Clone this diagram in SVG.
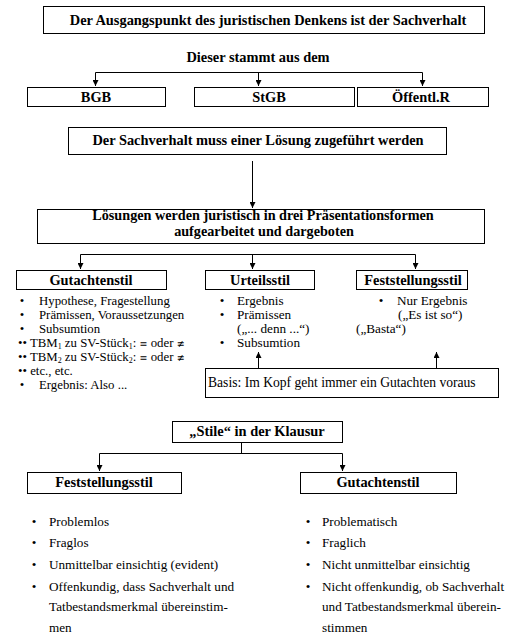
<svg xmlns="http://www.w3.org/2000/svg" width="519" height="643" viewBox="0 0 519 643">
<defs>
<marker id="ah" markerWidth="6" markerHeight="6" refX="6" refY="3" orient="auto" markerUnits="userSpaceOnUse"><path d="M0,0 L6,3 L0,6 z" fill="#000"/></marker>
</defs>
<style>
.box{fill:#fff;stroke:#000;stroke-width:1}
.b{font-family:"Liberation Serif","Times New Roman",serif;font-weight:bold;font-size:14.4px;fill:#000}
.t{font-family:"Liberation Serif","Times New Roman","DejaVu Serif",serif;font-size:13.2px;fill:#000}
.g{font-size:12.8px}
.c{text-anchor:middle}
.s{font-size:8px}
.m{font-family:"DejaVu Sans",sans-serif;font-size:9.5px}
.ln{fill:none;stroke:#000;stroke-width:1}
.ar{fill:none;stroke:#000;stroke-width:1;marker-end:url(#ah)}
</style>
<rect width="519" height="643" fill="#fff"/>

<g id="connectors">
<path class="ln" d="M95.5,72.5 H422.5"/>
<path class="ar" d="M95.5,72.5 V86"/>
<path class="ar" d="M258.5,72.5 V86"/>
<path class="ar" d="M422.5,72.5 V86"/>
<path class="ar" d="M252.5,161 V208"/>
<path class="ln" d="M80.5,254.5 H415.5"/>
<path class="ar" d="M80.5,254.5 V269"/>
<path class="ar" d="M252.5,254.5 V269"/>
<path class="ar" d="M415.5,254.5 V269"/>
<path class="ar" d="M258.5,368 V352"/>
<path class="ar" d="M436.5,368 V352"/>
<path class="ln" d="M241.5,442 V453.5 M99.5,453.5 H342.5"/>
<path class="ar" d="M99.5,453.5 V471"/>
<path class="ar" d="M342.5,453.5 V471"/>
</g>

<g id="start">
<rect class="box" x="43.5" y="6.5" width="441" height="27"/>
<text class="b c" x="268" y="24.5">Der Ausgangspunkt des juristischen Denkens ist der Sachverhalt</text>
</g>
<g id="source">
<text class="b c" x="258" y="62">Dieser stammt aus dem</text>
</g>
<g id="bgb">
<rect class="box" x="27.5" y="87.5" width="138" height="19"/>
<text class="b c" x="96" y="102">BGB</text>
</g>
<g id="stgb">
<rect class="box" x="194.5" y="87.5" width="160" height="19"/>
<text class="b c" x="269" y="102">StGB</text>
</g>
<g id="oeffr">
<rect class="box" x="357.5" y="87.5" width="131" height="19"/>
<text class="b c" x="421" y="102">Öffentl.R</text>
</g>
<g id="loesung">
<rect class="box" x="68.5" y="127.5" width="378" height="27"/>
<text class="b c" x="258" y="145">Der Sachverhalt muss einer Lösung zugeführt werden</text>
</g>
<g id="formen">
<rect class="box" x="37.5" y="209.5" width="447" height="34"/>
<text class="b c" x="263" y="220" style="font-size:14.2px">Lösungen werden juristisch in drei Präsentationsformen</text>
<text class="b c" x="264" y="236" style="font-size:14.2px">aufgearbeitet und dargeboten</text>
</g>

<g id="gutachtenstil1">
<rect class="box" x="16.5" y="270.5" width="150" height="19"/>
<text class="b c" x="91" y="285">Gutachtenstil</text>
<text class="t g c" x="22" y="305">•</text><text class="t g" x="39" y="305">Hypothese, Fragestellung</text>
<text class="t g c" x="22" y="319">•</text><text class="t g" x="39" y="319">Prämissen, Voraussetzungen</text>
<text class="t g c" x="22" y="333">•</text><text class="t g" x="39" y="333">Subsumtion</text>
<text class="t g" x="18" y="347">•• TBM<tspan class="s" dy="1.5">1</tspan><tspan dy="-1.5"> zu SV-Stück</tspan><tspan class="s" dy="1.5">1</tspan><tspan dy="-1.5">: </tspan><tspan class="m">≡</tspan><tspan> oder  </tspan><tspan class="m">≢</tspan></text>
<text class="t g" x="18" y="361">•• TBM<tspan class="s" dy="1.5">2</tspan><tspan dy="-1.5"> zu SV-Stück</tspan><tspan class="s" dy="1.5">2</tspan><tspan dy="-1.5">: </tspan><tspan class="m">≡</tspan><tspan> oder  </tspan><tspan class="m">≢</tspan></text>
<text class="t g" x="18" y="375">•• etc., etc.</text>
<text class="t g c" x="22" y="389">•</text><text class="t g" x="39" y="389">Ergebnis: Also ...</text>
</g>

<g id="urteilsstil">
<rect class="box" x="205.5" y="270.5" width="109" height="19"/>
<text class="b c" x="260" y="285">Urteilsstil</text>
<text class="t c" x="222" y="305">•</text><text class="t" x="237" y="305">Ergebnis</text>
<text class="t c" x="222" y="319">•</text><text class="t" x="237" y="319">Prämissen</text>
<text class="t" x="237" y="333">(„... denn ...“)</text>
<text class="t c" x="222" y="347">•</text><text class="t" x="237" y="347">Subsumtion</text>
</g>

<g id="feststellungsstil1">
<rect class="box" x="356.5" y="270.5" width="111" height="19"/>
<text class="b c" x="413" y="285">Feststellungsstil</text>
<text class="t c" x="381" y="305">•</text><text class="t" x="397" y="305">Nur Ergebnis</text>
<text class="t" x="398" y="319">(„Es ist so“)</text>
<text class="t" x="356" y="333">(„Basta“)</text>
</g>

<g id="basis">
<rect class="box" x="205.5" y="368.5" width="293" height="29"/>
<text class="t" x="208" y="387" style="font-size:13.6px">Basis: Im Kopf geht immer ein Gutachten voraus</text>
</g>

<g id="stile">
<rect class="box" x="172.5" y="421.5" width="170" height="21"/>
<text class="b c" x="257" y="436">„Stile“ in der Klausur</text>
</g>

<g id="feststellungsstil2">
<rect class="box" x="27.5" y="472.5" width="154" height="21"/>
<text class="b c" x="104" y="487">Feststellungsstil</text>
<text class="t c" x="34" y="526">•</text><text class="t" x="49" y="526">Problemlos</text>
<text class="t c" x="34" y="547">•</text><text class="t" x="49" y="547">Fraglos</text>
<text class="t c" x="34" y="569">•</text><text class="t" x="49" y="569">Unmittelbar einsichtig (evident)</text>
<text class="t c" x="34" y="591">•</text><text class="t" x="49" y="591">Offenkundig, dass Sachverhalt und</text>
<text class="t" x="49" y="611">Tatbestandsmerkmal übereinstim-</text>
<text class="t" x="49" y="632">men</text>
</g>

<g id="gutachtenstil2">
<rect class="box" x="300.5" y="472.5" width="156" height="21"/>
<text class="b c" x="378" y="487">Gutachtenstil</text>
<text class="t c" x="308" y="526">•</text><text class="t" x="322" y="526">Problematisch</text>
<text class="t c" x="308" y="547">•</text><text class="t" x="322" y="547">Fraglich</text>
<text class="t c" x="308" y="569">•</text><text class="t" x="322" y="569">Nicht unmittelbar einsichtig</text>
<text class="t c" x="308" y="591">•</text><text class="t" x="322" y="591">Nicht offenkundig, ob Sachverhalt</text>
<text class="t" x="322" y="611">und Tatbestandsmerkmal überein-</text>
<text class="t" x="322" y="632">stimmen</text>
</g>
</svg>
